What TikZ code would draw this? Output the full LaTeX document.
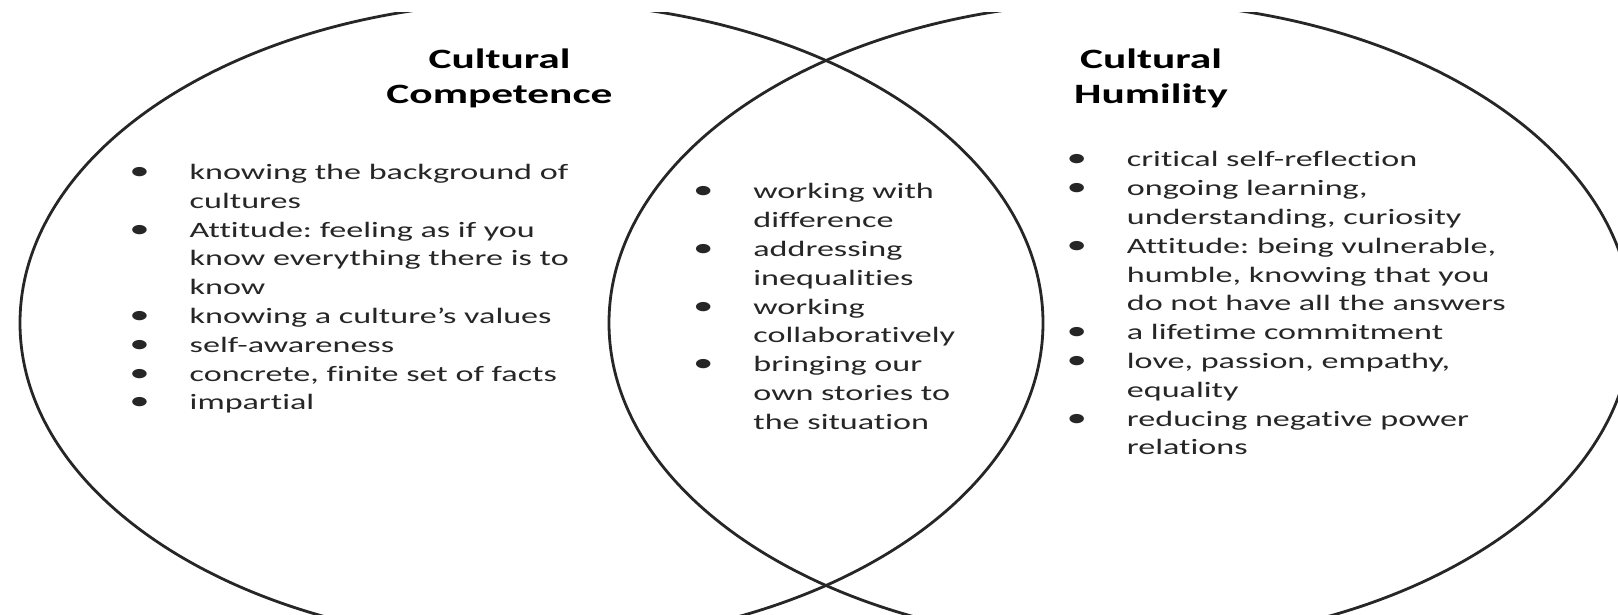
\documentclass[tikz,border=0pt]{standalone}
\usepackage{fontspec}
\setmainfont{Carlito}[FakeStretch=1.55, Ligatures=NoCommon]
\usetikzlibrary{shapes.geometric}

\frenchspacing
\newcommand{\bul}{\llap{\scalebox{1.2}{\textbullet}\hspace{20pt}}}

\begin{document}
\begin{tikzpicture}[x=0.5pt,y=0.5pt]
%style for the two sets
\tikzstyle{venn} = [ellipse, draw=black!85, line width=1.4pt, minimum width=511.5pt, minimum height=321pt, inner sep=0pt]

%style for set titles
\tikzstyle{settitle} = [font=\fontsize{14}{17.75}\selectfont\bfseries, text=black, inner sep=0pt, anchor=base]

%style for bullet lists
\tikzstyle{itemlist} = [font=\fontsize{11}{14.4}\selectfont, text=black!85, inner sep=0pt, anchor=base west]

\useasboundingbox (0,0) rectangle (1618,615);

%draw sets, cut off at the top
\begin{scope}
\clip (0,0) rectangle (1618,602.5);
\node[venn] (competence) at (531.5,292) {};
\node[venn] (humility) at (1120.5,292) {};
\end{scope}

%place titles
\node[settitle] (compTitle) at (499.5,546.5) {\begin{tabular}[t]{@{}c@{}}Cultural\\Competence\end{tabular}};

\node[settitle] (humTitle) at (1151,546.5) {\begin{tabular}[t]{@{}c@{}}Cultural\\Humility\end{tabular}};

%place lists
\node[itemlist] (compList) at (189.3,435.4) {\begin{tabular}[t]{@{}l@{}}
\bul knowing the background of\\
cultures\\
\bul Attitude: feeling as if you\\
know everything there is to\\
know\\
\bul knowing a culture’s values\\
\bul self-awareness\\
\bul concrete, finite set of facts\\
\bul impartial
\end{tabular}};

\node[itemlist] (sharedList) at (753,416) {\begin{tabular}[t]{@{}l@{}}
\bul working with\\
difference\\
\bul addressing\\
inequalities\\
\bul working\\
collaboratively\\
\bul bringing our\\
own stories to\\
the situation
\end{tabular}};

\node[itemlist] (humList) at (1126.5,448) {\begin{tabular}[t]{@{}l@{}}
\bul critical self-reflection\\
\bul ongoing learning,\\
understanding, curiosity\\
\bul Attitude: being vulnerable,\\
humble, knowing that you\\
do not have all the answers\\
\bul a lifetime commitment\\
\bul love, passion, empathy,\\
equality\\
\bul reducing negative power\\
relations
\end{tabular}};
\end{tikzpicture}
\end{document}
